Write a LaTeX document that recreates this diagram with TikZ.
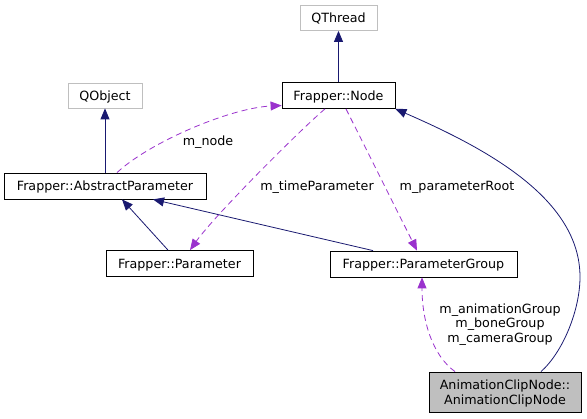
\documentclass[tikz,border=0pt]{standalone}
\usepackage{fontspec}
\setmainfont{DejaVu Sans}
\usetikzlibrary{arrows.meta}
\definecolor{inhblue}{HTML}{191970}
\definecolor{usepurple}{HTML}{9A32CD}
\definecolor{boxgray}{HTML}{BFBFBF}

\begin{document}
\begin{tikzpicture}[x=1pt,y=-1pt,every node/.style={font=\fontsize{12.7}{14.5}\selectfont,text depth=0},
        classbox/.style={draw=black,thick,minimum height=26,inner sep=0},
        extbox/.style={draw=boxgray,thick,minimum height=25,inner sep=0},
        inh/.style={inhblue,thick,-{Triangle[length=11,width=9]}},
        use/.style={usepurple,thick,dash pattern=on 6pt off 4pt,-{Triangle[length=11,width=9]}}]
        \useasboundingbox (0,0) rectangle (587,419);
        \foreach \n/\x/\y/\w/\t in {qthread/338.5/18/77/QThread,qobject/105/95.5/74/QObject} {
            \node [extbox,minimum width=\w] (\n) at (\x,\y) {\t}; % outside classes
        }
        \foreach \n/\x/\y/\w/\t in {node/338.5/95.5/113/Frapper::Node,absparam/105/186/202/Frapper::AbstractParameter,param/179.5/263.5/147/Frapper::Parameter,paramgroup/423.5/264/187/Frapper::ParameterGroup} {
            \node [classbox,minimum width=\w] (\n) at (\x,\y) {\t}; % frapper classes
        }
        \node [classbox,fill=boxgray,minimum width=152,minimum height=40,align=center] (clipnode) at (505,392) {AnimationClipNode::\\AnimationClipNode};
        % inheritance
        \draw [inh] (absparam.north) -- (qobject.south);
        \draw [inh] (node.north) -- (qthread.south);
        \draw [inh] ([xshift=-11.5]param.north) -- ([xshift=17]absparam.south);
        \draw [inh] ([xshift=-50.5]paramgroup.north) -- ([xshift=48]absparam.south);
        \draw [inh] ([xshift=36]clipnode.north) .. controls (563,352) and (580,310) .. (580,277) .. controls (580,200) and (490,150) .. (node.south east);
        % members
        \draw [use] ([xshift=12]absparam.north) .. controls (150,142) and (230,108) .. ([yshift=-10]node.west);
        \node (lnode) at (208,141) {m\_node};
        \draw [use] ([xshift=-13.5]node.south) .. controls (300,130) and (215,215) .. ([xshift=10.5]param.north);
        \node (ltime) at (317,186) {m\_timeParameter};
        \draw [use] ([xshift=7.5]node.south) -- ([xshift=-6.5]paramgroup.north);
        \node (lroot) at (457,186) {m\_parameterRoot};
        \draw [use] ([xshift=-50]clipnode.north) .. controls (432,355) and (422,320) .. ([xshift=-1.5]paramgroup.south);
        \node [align=center] (lgroups) at (500,323) {m\_animationGroup\\m\_boneGroup\\m\_cameraGroup};
    \end{tikzpicture}
\end{document}
